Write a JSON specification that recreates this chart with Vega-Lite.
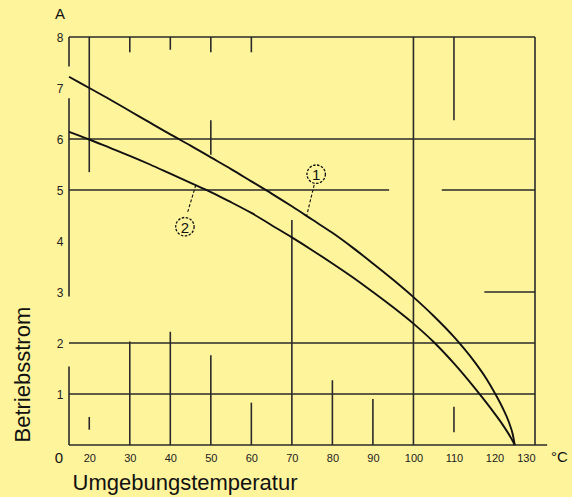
{
  "$schema": "https://vega.github.io/schema/vega-lite/v6.json",
  "width": 466,
  "height": 408,
  "autosize": {"type": "none"},
  "padding": {"left": 69, "top": 37, "right": 37, "bottom": 52},
  "background": "#fef49c",
  "config": {"view": {"stroke": null}, "font": "Liberation Sans"},
  "datasets": {
    "hseg": [
      {"y": 8, "x": 15, "x2": 130},
      {"y": 6, "x": 15, "x2": 130},
      {"y": 5, "x": 15, "x2": 94},
      {"y": 5, "x": 107, "x2": 130},
      {"y": 3, "x": 117.5, "x2": 130},
      {"y": 2, "x": 15, "x2": 130},
      {"y": 1, "x": 15, "x2": 130},
      {"y": 0, "x": 15, "x2": 133}
    ],
    "vseg": [
      {"x": 15, "y": 8, "y2": 7.42},
      {"x": 15, "y": 6.8, "y2": 2.91},
      {"x": 15, "y": 1.54, "y2": 0},
      {"x": 20, "y": 8, "y2": 5.35},
      {"x": 20, "y": 0.55, "y2": 0.3},
      {"x": 30, "y": 8, "y2": 7.7},
      {"x": 30, "y": 2.03, "y2": 0},
      {"x": 40, "y": 8, "y2": 7.75},
      {"x": 40, "y": 2.22, "y2": 0},
      {"x": 50, "y": 8, "y2": 7.7},
      {"x": 50, "y": 6.37, "y2": 5.69},
      {"x": 50, "y": 1.76, "y2": 0},
      {"x": 60, "y": 8, "y2": 7.7},
      {"x": 60, "y": 0.83, "y2": 0},
      {"x": 70, "y": 4.41, "y2": 0},
      {"x": 80, "y": 1.27, "y2": 0},
      {"x": 90, "y": 0.9, "y2": 0},
      {"x": 100, "y": 8, "y2": 0},
      {"x": 110, "y": 8, "y2": 6.37},
      {"x": 110, "y": 0.75, "y2": 0.25},
      {"x": 130, "y": 8, "y2": 0}
    ],
    "curves": [
      {"curve": "1", "x": 15, "y": 7.22},
      {"curve": "1", "x": 20, "y": 7.0},
      {"curve": "1", "x": 25, "y": 6.78},
      {"curve": "1", "x": 30, "y": 6.55},
      {"curve": "1", "x": 35, "y": 6.32},
      {"curve": "1", "x": 40, "y": 6.09},
      {"curve": "1", "x": 45, "y": 5.87},
      {"curve": "1", "x": 50, "y": 5.64},
      {"curve": "1", "x": 55, "y": 5.41},
      {"curve": "1", "x": 60, "y": 5.17},
      {"curve": "1", "x": 65, "y": 4.93},
      {"curve": "1", "x": 70, "y": 4.68},
      {"curve": "1", "x": 75, "y": 4.42},
      {"curve": "1", "x": 80, "y": 4.16},
      {"curve": "1", "x": 85, "y": 3.87},
      {"curve": "1", "x": 90, "y": 3.56},
      {"curve": "1", "x": 95, "y": 3.24},
      {"curve": "1", "x": 100, "y": 2.9},
      {"curve": "1", "x": 105, "y": 2.53},
      {"curve": "1", "x": 110, "y": 2.12},
      {"curve": "1", "x": 115, "y": 1.64},
      {"curve": "1", "x": 118, "y": 1.3},
      {"curve": "1", "x": 120, "y": 1.03},
      {"curve": "1", "x": 122, "y": 0.73},
      {"curve": "1", "x": 123.5, "y": 0.46},
      {"curve": "1", "x": 124.5, "y": 0.21},
      {"curve": "1", "x": 125, "y": 0},
      {"curve": "2", "x": 15, "y": 6.14},
      {"curve": "2", "x": 20, "y": 5.99},
      {"curve": "2", "x": 25, "y": 5.83},
      {"curve": "2", "x": 30, "y": 5.67},
      {"curve": "2", "x": 35, "y": 5.5},
      {"curve": "2", "x": 40, "y": 5.32},
      {"curve": "2", "x": 45, "y": 5.14},
      {"curve": "2", "x": 50, "y": 4.96},
      {"curve": "2", "x": 55, "y": 4.76},
      {"curve": "2", "x": 60, "y": 4.55},
      {"curve": "2", "x": 65, "y": 4.31},
      {"curve": "2", "x": 70, "y": 4.07},
      {"curve": "2", "x": 75, "y": 3.82},
      {"curve": "2", "x": 80, "y": 3.56},
      {"curve": "2", "x": 85, "y": 3.29},
      {"curve": "2", "x": 90, "y": 3.0},
      {"curve": "2", "x": 95, "y": 2.7},
      {"curve": "2", "x": 100, "y": 2.38},
      {"curve": "2", "x": 105, "y": 2.02},
      {"curve": "2", "x": 110, "y": 1.6},
      {"curve": "2", "x": 115, "y": 1.13},
      {"curve": "2", "x": 118, "y": 0.83},
      {"curve": "2", "x": 120, "y": 0.62},
      {"curve": "2", "x": 122, "y": 0.4},
      {"curve": "2", "x": 124, "y": 0.15},
      {"curve": "2", "x": 125, "y": 0}
    ],
    "leaders": [
      {"x": 75.5, "y": 5.1, "x2": 73.7, "y2": 4.51},
      {"x": 44.3, "y": 4.57, "x2": 46.3, "y2": 5.1}
    ],
    "circles": [
      {"x": 76, "y": 5.31, "label": "1"},
      {"x": 43.6, "y": 4.28, "label": "2"}
    ],
    "units": [
      {"x": 12.8, "y": 8.45, "label": "A"},
      {"x": 12.5, "y": -0.25, "label": "0"},
      {"x": 136, "y": -0.24, "label": "°C"}
    ]
  },
  "encoding": {
    "x": {
      "field": "x",
      "type": "quantitative",
      "scale": {"domain": [15, 130], "nice": false, "zero": false},
      "axis": {
        "values": [20, 30, 40, 50, 60, 70, 80, 90, 100, 110, 120, 130],
        "domain": false,
        "ticks": false,
        "grid": false,
        "labelFontSize": 11,
        "labelColor": "#222",
        "labelPadding": 7,
        "title": "Umgebungstemperatur",
        "titleFontSize": 22,
        "titleFontWeight": "normal",
        "titleColor": "#111",
        "titleAlign": "left",
        "titleAnchor": "start",
        "titleX": 3,
        "titleY": 44,
        "titleBaseline": "alphabetic"
      }
    },
    "y": {
      "field": "y",
      "type": "quantitative",
      "scale": {"domain": [0, 8], "nice": false},
      "axis": {
        "values": [1, 2, 3, 4, 5, 6, 7, 8],
        "domain": false,
        "ticks": false,
        "grid": false,
        "labelFontSize": 12,
        "labelColor": "#222",
        "labelPadding": 6,
        "title": "Betriebsstrom",
        "titleFontSize": 22,
        "titleFontWeight": "normal",
        "titleColor": "#111",
        "titleAngle": -90,
        "titleAlign": "left",
        "titleAnchor": "start",
        "titleX": -40,
        "titleY": 405,
        "titleBaseline": "alphabetic"
      }
    }
  },
  "layer": [
    {
      "data": {"name": "hseg"},
      "mark": {"type": "rule", "stroke": "#2a2a2a", "strokeWidth": 1.6},
      "encoding": {"x2": {"field": "x2"}}
    },
    {
      "data": {"name": "vseg"},
      "mark": {"type": "rule", "stroke": "#2a2a2a", "strokeWidth": 1.6},
      "encoding": {"y2": {"field": "y2"}}
    },
    {
      "data": {"name": "curves"},
      "mark": {"type": "line", "stroke": "#111", "strokeWidth": 1.9, "interpolate": "monotone"},
      "encoding": {"detail": {"field": "curve"}}
    },
    {
      "data": {"name": "leaders"},
      "mark": {"type": "rule", "stroke": "#111", "strokeWidth": 1.1, "strokeDash": [3, 2]},
      "encoding": {"x2": {"field": "x2"}, "y2": {"field": "y2"}}
    },
    {
      "data": {"name": "circles"},
      "mark": {"type": "point", "shape": "circle", "size": 340, "filled": false, "stroke": "#111", "strokeWidth": 1.3, "strokeDash": [2.5, 1.5], "opacity": 1}
    },
    {
      "data": {"name": "circles"},
      "mark": {"type": "text", "fontSize": 15, "color": "#111", "align": "center", "baseline": "middle", "dy": 1},
      "encoding": {"text": {"field": "label"}}
    },
    {
      "data": {"name": "units"},
      "mark": {"type": "text", "fontSize": 15, "color": "#111", "align": "center", "baseline": "middle"},
      "encoding": {"text": {"field": "label"}}
    }
  ]
}
